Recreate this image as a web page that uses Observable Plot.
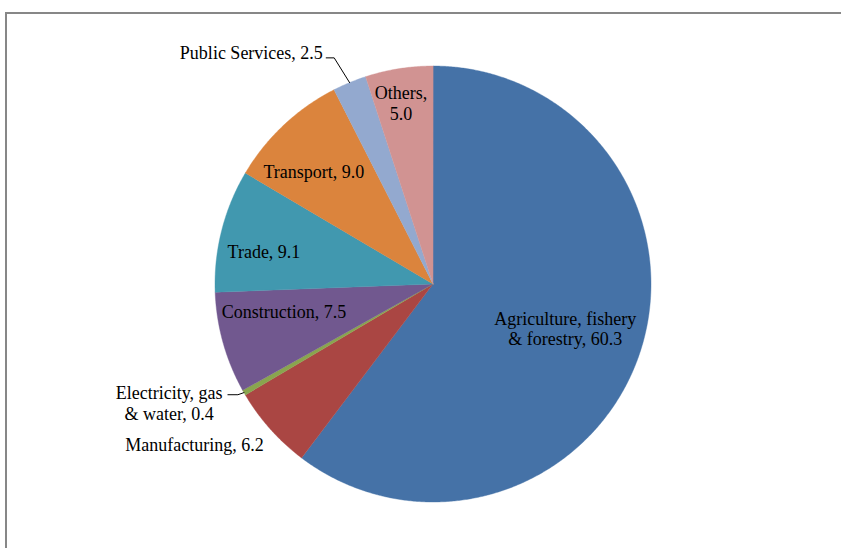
<!DOCTYPE html>
<html>
<head>
<meta charset="utf-8">
<script src="https://cdn.jsdelivr.net/npm/d3@7"></script>
<script src="https://cdn.jsdelivr.net/npm/@observablehq/plot@0.6"></script>
<style>
  html, body { margin: 0; padding: 0; background: #fff; overflow: hidden; }
  #wrap { position: relative; width: 841px; height: 548px; }
  #frame { position: absolute; left: 5px; top: 12px; width: 900px; height: 600px;
           border-top: 2px solid #878787; border-left: 2px solid #878787; }
  #chart { position: absolute; left: 0; top: 0; }
</style>
</head>
<body>
<div id="wrap"><div id="frame"></div><div id="chart"></div></div>
<script>
// ---- data ----
const categories = ["Agriculture, fishery & forestry", "Manufacturing", "Electricity, gas & water",
  "Construction", "Trade", "Transport", "Public Services", "Others"];
const values = [60.3, 6.2, 0.4, 7.5, 9.1, 9.0, 2.5, 5.0];
const labelTexts = ["Agriculture, fishery\n& forestry, 60.3", "Manufacturing, 6.2", "Electricity, gas\n& water, 0.4",
  "Construction, 7.5", "Trade, 9.1", "Transport, 9.0", "Public Services, 2.5", "Others,\n5.0"];
const colors = ["#4572A7", "#AA4643", "#89A54E", "#71588F", "#4198AF", "#DB843D", "#93A9CF", "#D19392"];

// ---- label placement (polar: radius fraction, angle offset from slice middle in degrees) ----
const labelPlace = [
  {r: 0.64, da: 0, anchor: "middle"},
  {r: 1.317, da: 7.9, anchor: "middle"},
  {r: 1.327, da: 5.7, anchor: "middle"},
  {r: 0.695, da: 5.4, anchor: "middle"},
  {r: 0.79, da: -3.2, anchor: "middle"},
  {r: 0.753, da: -3.3, anchor: "middle"},
  {r: 1.178, da: -2.9, anchor: "end"},
  {r: 0.845, da: -1, anchor: "middle"}
];
const leaderPlace = [
  {i: 6, elbowR: 1.132, elbowDa: -1.1, tailPx: -8},
  {i: 2, elbowR: 1.029, elbowDa: 0.3, tailPx: -10}
];
const R_PX = 218;

// ---- geometry from d3.pie ----
const table = categories.map((c, i) => ({category: c, value: values[i], label: labelTexts[i]}));
const arcs = d3.pie().sort(null).value(d => d.value).startAngle(0).endAngle(2 * Math.PI)(table);
const rad = Math.PI / 180;
const polar = (r, a) => ({x: r * Math.sin(a), y: r * Math.cos(a)});

const slicePts = [];
arcs.forEach(a => {
  const cat = a.data.category;
  slicePts.push({category: cat, x: 0, y: 0});
  const n = Math.max(2, Math.ceil((a.endAngle - a.startAngle) / (0.4 * rad)));
  for (let k = 0; k <= n; k++) {
    const ang = a.startAngle + (a.endAngle - a.startAngle) * k / n;
    slicePts.push({category: cat, ...polar(1, ang)});
  }
});

const labels = arcs.map((a, i) => {
  const mid = (a.startAngle + a.endAngle) / 2;
  const p = labelPlace[i];
  return {text: a.data.label, anchor: p.anchor, ...polar(p.r, mid + p.da * rad)};
});

const leaderPts = [];
leaderPlace.forEach(l => {
  const a = arcs[l.i];
  const mid = (a.startAngle + a.endAngle) / 2;
  const edge = polar(1, mid);
  const elbow = polar(l.elbowR, mid + l.elbowDa * rad);
  const cat = a.data.category;
  leaderPts.push({category: cat, ...edge});
  leaderPts.push({category: cat, ...elbow});
  leaderPts.push({category: cat, x: elbow.x + l.tailPx / R_PX, y: elbow.y});
});

const cx = 432.5, cy = 283.5;
const chart = Plot.plot({
  width: 841,
  height: 548,
  margin: 0,
  style: {fontFamily: "'Liberation Serif', 'Times New Roman', serif", background: "transparent"},
  x: {domain: [-1, 1], range: [cx - R_PX, cx + R_PX], axis: null},
  y: {domain: [-1, 1], range: [cy + R_PX, cy - R_PX], axis: null},
  color: {domain: categories, range: colors},
  marks: [
    Plot.line(slicePts, {x: "x", y: "y", z: "category", fill: "category", stroke: "category",
      strokeWidth: 0.4, curve: "linear-closed"}),
    Plot.line(leaderPts, {x: "x", y: "y", z: "category", stroke: "#000", strokeWidth: 1}),
    Plot.text(labels.filter(d => d.anchor === "middle"), {x: "x", y: "y", text: "text",
      textAnchor: "middle", fontSize: 18, lineHeight: 1.16, fill: "#000"}),
    Plot.text(labels.filter(d => d.anchor === "end"), {x: "x", y: "y", text: "text",
      textAnchor: "end", fontSize: 18, lineHeight: 1.16, fill: "#000"})
  ]
});
document.getElementById("chart").appendChild(chart);
</script>
</body>
</html>
